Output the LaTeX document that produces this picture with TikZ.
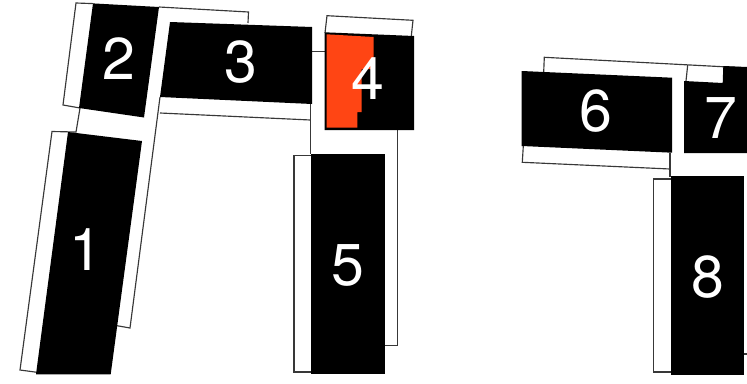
\documentclass[tikz,border=0pt]{standalone}
\usepackage{fontspec}
\setmainfont{TeX Gyre Heros}
\tikzset{
  blk/.style={fill=black,draw=none},
  outl/.style={draw=black!78,line width=1.15pt,line join=miter},
  num/.style={text=white,inner sep=0pt,font=\fontsize{59}{59}\selectfont}
}
\begin{document}
\begin{tikzpicture}[x=1pt,y=-1pt]
\useasboundingbox (0,0) rectangle (747,383);
% outlines
\draw[outl] (93,3.6) -- (76,3) -- (63,105) -- (80,108) -- (76,132) -- (52,131.5) -- (20,370) -- (37,372.3);
\draw[outl] (159,7) -- (248.5,12) -- (248,23);
\draw[outl] (160,97) -- (130,328) -- (117,325.7);
\draw[outl] (160,113) -- (310.3,120);
\draw[outl] (312,51.5) -- (325,51.5);
\draw[outl] (310.3,104) -- (310.3,154);
\draw[outl] (311,155.7) -- (294,155.7) -- (294,372) -- (311,372);
\draw[outl] (325,33) -- (327,15.7) -- (413,20.3) -- (411.3,36);
\draw[outl] (397.7,130) -- (397.7,345.3) -- (384,345.3);
\draw[outl] (543.7,72) -- (544.3,57.3) -- (747,68);
\draw[outl] (687.7,65) -- (686,81);
\draw[outl] (523.3,146) -- (522.3,162.3) -- (670,169);
\draw[outl] (670,153) -- (670,177);
\draw[outl] (671,179) -- (653.7,179) -- (653.7,372) -- (671,372);
\draw[outl] (744,354) -- (747,354);
% black blocks
\fill[blk] (93,3.4) -- (159,7) -- (144,117.5) -- (79,108) -- cycle;
\fill[blk] (170,22) -- (312,27) -- (312,104) -- (160,97) -- cycle;
\fill[blk] (68,132) -- (142,141) -- (110.7,374.3) -- (36,374.3) -- cycle;
\fill[blk] (324.7,32.3) -- (414,36) -- (414,130) -- (324.7,130) -- cycle;
\fill[blk] (310.5,153.5) rectangle (384.5,374.3);
\fill[blk] (521.7,71) -- (672,77.7) -- (672,152.7) -- (521.7,146) -- cycle;
\fill[blk] (684,81) -- (722.7,83) -- (723.3,66) -- (747,67) -- (747,153) -- (684,153) -- cycle;
\fill[blk] (670.7,176) rectangle (744.3,374.7);
% orange patch
\fill[fill={rgb,255:red,255;green,69;blue,20}] (326.7,34.3) -- (373.7,37) -- (373.7,69) -- (361.7,69) -- (361.7,112) -- (357.3,112) -- (357.3,127.7) -- (326.7,127.7) -- cycle;
% digits
\node[num] (n1) at (86,250) {1};
\node[num] (n2) at (118.5,59) {2};
\node[num] (n3) at (241,62.5) {3};
\node[num] (n4) at (368,78.7) {4};
\node[num] (n5) at (347.5,265.8) {5};
\node[num] (n6) at (596,111.3) {6};
\node[num] (n7) at (721,117.8) {7};
\node[num] (n8) at (707.5,276.7) {8};
\end{tikzpicture}
\end{document}
